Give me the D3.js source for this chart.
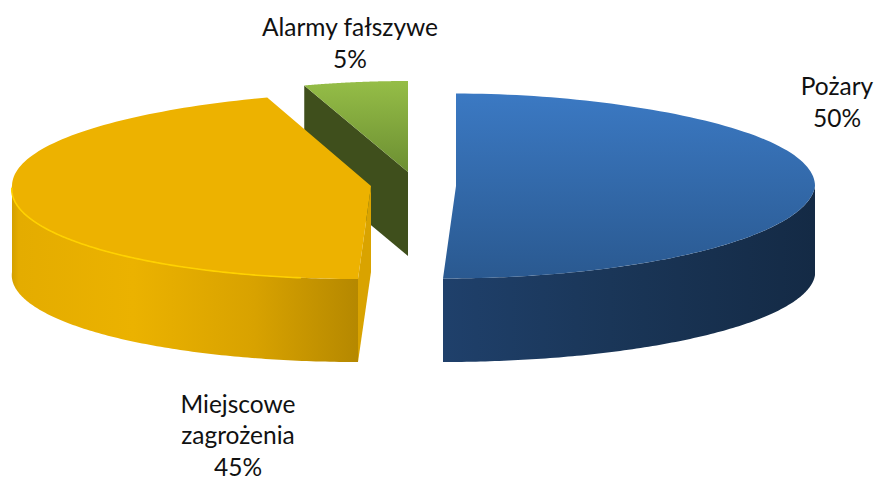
<!DOCTYPE html>
<html>
<head>
<meta charset="utf-8">
<script src="https://cdnjs.cloudflare.com/ajax/libs/d3/7.8.5/d3.min.js"></script>
<style>
    html, body { margin: 0; padding: 0; background: #fff; }
    svg { display: block; }
    .label { font-family: Lato, "Open Sans", sans-serif; font-size: 24.5px; fill: #111; text-anchor: middle; }
</style>
</head>
<body>
<div id="chart"></div>
<script>
// chart data
const categories = ["Pożary", "Miejscowe zagrożenia", "Alarmy fałszywe"];
const shares = [50, 45, 5];
const labelLines = [["Pożary", "50%"], ["Miejscowe", "zagrożenia", "45%"], ["Alarmy fałszywe", "5%"]];

const width = 877, height = 481;

const svg = d3.select("#chart").append("svg")
    .attr("width", width)
    .attr("height", height);

const defs = svg.append("defs");

function gradient(id, vertical, stops) {
    const g = defs.append("linearGradient").attr("id", id)
        .attr("x1", 0).attr("y1", 0)
        .attr("x2", vertical ? 0 : 1).attr("y2", vertical ? 1 : 0);
    stops.forEach(s => g.append("stop").attr("offset", s[0]).attr("stop-color", s[1]));
}

gradient("blueTop", true, [[0, "#3b79c3"], [1, "#2a5990"]]);
gradient("blueWall", false, [[0, "#1f406b"], [0.45, "#1a3658"], [1, "#142a45"]]);
gradient("yellowWall", false, [[0, "#d3a000"], [0.02, "#e4ac00"], [0.35, "#ebb200"], [0.7, "#d8a200"], [1, "#b58800"]]);
gradient("greenTop", true, [[0, "#95bd47"], [1, "#6c8f32"]]);

// exploded slices, each one has its own centre
const layout = [
    {cx: 456, cy: 186, ry: 92.5, drop: 89, ryBase: 87, top: "url(#blueTop)", wall: "url(#blueWall)", side: "#1f406b", label: [837, 95]},
    {cx: 371, cy: 186, ry: 93, drop: 86, ryBase: 90, top: "#edb200", wall: "url(#yellowWall)", side: "#d9a300", label: [238, 412.5]},
    {cx: 408, cy: 172, ry: 91, drop: 84, ryBase: 91, top: "url(#greenTop)", wall: "#3f4f1c", side: "#3f4f1c", label: [350, 36]}
];

const rx = 359;           // same radius for all slices
const backNarrow = 0.079; // far end of the pie gets narrower
const frontShift = 13;    // near half leans to the left
const lineStep = 31.5;

const pie = d3.pie().sort(null).value(d => d);
const arcs = pie(shares);

const line = d3.line();

function slicePaths(a, l) {
    const xs = d3.scaleLinear().domain([-1, 1]).range([l.cx - rx, l.cx + rx]);
    const ys = d3.scaleLinear().domain([-1, 1]).range([l.cy - l.ry, l.cy + l.ry]);
    const yb = d3.scaleLinear().domain([-1, 1]).range([l.cy + l.drop - l.ryBase, l.cy + l.drop + l.ryBase]);

    const px = t => {
        const c = Math.cos(t), s = Math.sin(t);
        return c > 0 ? xs(s * (1 - backNarrow * Math.pow(c, 4))) : xs(s) + frontShift * c;
    };
    const topPt = t => [px(t), ys(-Math.cos(t))];
    const basePt = t => [px(t), yb(-Math.cos(t))];
    const sweep = (t0, t1) => d3.range(0, 121).map(i => t0 + (t1 - t0) * i / 120);

    const apex = [l.cx, l.cy];
    const apexBase = [l.cx, l.cy + l.drop];

    const res = {};
    res.top = line([apex, ...sweep(a.startAngle, a.endAngle).map(topPt)]) + "Z";

    // outer wall, only the part facing the viewer
    const w0 = Math.max(a.startAngle, Math.PI / 2);
    const w1 = Math.min(a.endAngle, 3 * Math.PI / 2);
    if (w1 > w0) {
        const s = sweep(w0, w1);
        res.wall = line([...s.map(topPt), ...s.slice().reverse().map(basePt)]) + "Z";
        res.rim = line(sweep(w0 + 0.16, w1 - 0.02).map(topPt));
    }

    // cut face, blue one is hidden
    if (a.index > 0) {
        res.side = line([apex, topPt(a.startAngle), basePt(a.startAngle), apexBase]) + "Z";
    }
    return res;
}

// back to front
const slices = svg.append("g").attr("class", "slices");

[2, 1, 0].forEach(i => {
    const l = layout[i];
    const p = slicePaths(arcs[i], l);
    const g = slices.append("g").attr("class", "slice-" + i);
    if (p.side) g.append("path").attr("d", p.side).attr("fill", l.side);
    if (p.wall) g.append("path").attr("d", p.wall).attr("fill", l.wall);
    g.append("path").attr("d", p.top).attr("fill", l.top);
    if (i === 1) {
        g.append("path").attr("d", p.rim)
            .attr("fill", "none")
            .attr("stroke", "#ffd200")
            .attr("stroke-width", 1.6);
    }
});

// labels
layout.forEach((l, i) => {
    const t = svg.append("text").attr("class", "label");
    labelLines[i].forEach((s, k) => {
        t.append("tspan")
            .attr("x", l.label[0])
            .attr("y", l.label[1] + k * lineStep)
            .text(s);
    });
});
</script>
</body>
</html>
